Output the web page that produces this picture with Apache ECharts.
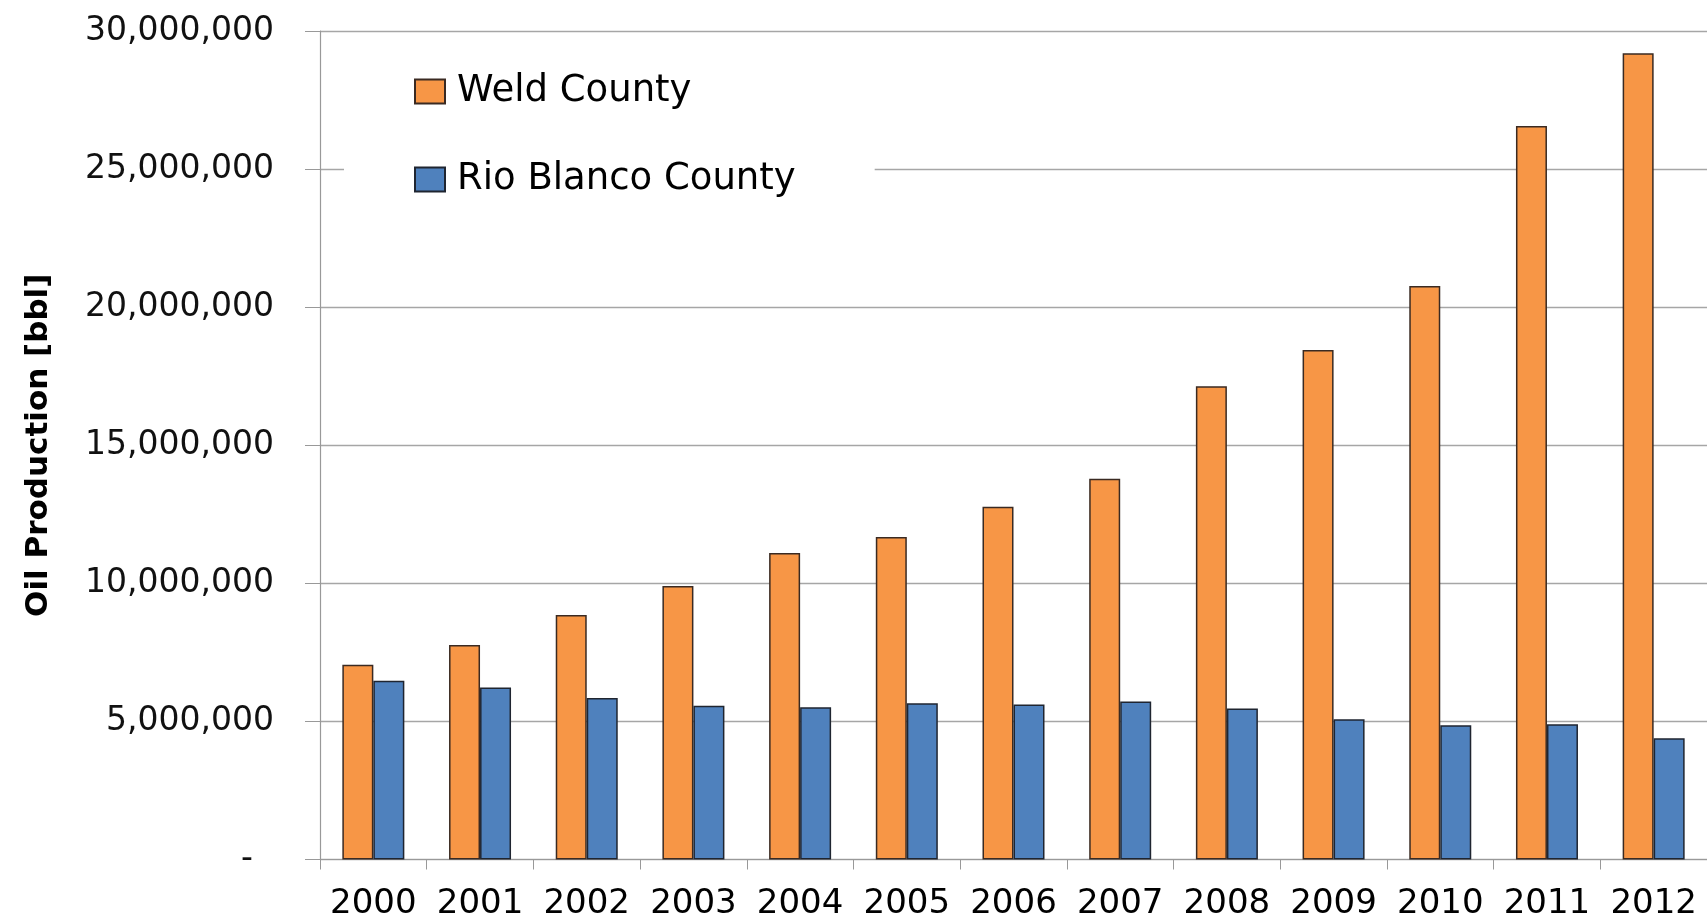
<!DOCTYPE html>
<html>
<head>
<meta charset="utf-8">
<script src="https://cdn.jsdelivr.net/npm/echarts@6/dist/echarts.min.js"></script>
<style>
  html, body { margin: 0; padding: 0; background: #fff; }
  #chart { width: 1707px; height: 922px; }
</style>
</head>
<body>
<div id="chart"></div>
<script>
// data
var years = ['2000', '2001', '2002', '2003', '2004', '2005', '2006', '2007', '2008', '2009', '2010', '2011', '2012'];
var weld = [7050000, 7770000, 8850000, 9900000, 11100000, 11680000, 12770000, 13790000, 17140000, 18450000, 20770000, 26560000, 29190000];
var rioBlanco = [6470000, 6230000, 5850000, 5570000, 5510000, 5660000, 5610000, 5720000, 5470000, 5080000, 4860000, 4900000, 4390000];
var seriesNames = ['Weld County', 'Rio Blanco County'];
var yTicks = { min: 0, max: 30000000, interval: 5000000 };

var myChart = echarts.init(document.getElementById('chart'));

// excel accounting style: zero shows as a dash
function fmt(v) {
  if (v === 0) return '-  ';
  return String(v).replace(/\B(?=(\d{3})+(?!\d))/g, ',');
}

var option = {
  backgroundColor: '#fff',
  animation: false,
  grid: {
    left: 320,
    top: 31,
    width: 1401,
    height: 828.5,
    containLabel: false
  },
  legend: {
    orient: 'vertical',
    left: 344,
    top: 48,
    padding: [25, 79, 25, 70],
    backgroundColor: '#fff',
    itemWidth: 30,
    itemHeight: 24,
    itemGap: 51,
    icon: 'rect',
    textStyle: {
      fontFamily: 'DejaVu Sans',
      fontSize: 37,
      lineHeight: 37,
      color: '#000',
      padding: [0, 0, 0, 7]
    },
    data: seriesNames
  },
  xAxis: {
    type: 'category',
    data: years,
    axisLine: { lineStyle: { color: '#999', width: 1.2 } },
    axisTick: { show: true, interval: 0, length: 10, lineStyle: { color: '#999' } },
    axisLabel: {
      interval: 0,
      hideOverlap: false,
      fontFamily: 'DejaVu Sans',
      fontSize: 34,
      color: '#000',
      margin: 28
    }
  },
  yAxis: {
    type: 'value',
    min: yTicks.min,
    max: yTicks.max,
    interval: yTicks.interval,
    name: 'Oil Production [bbl]',
    nameLocation: 'middle',
    nameGap: 266,
    nameTextStyle: {
      fontFamily: 'DejaVu Sans',
      fontWeight: 'bold',
      fontSize: 31,
      color: '#000'
    },
    axisLine: { show: true, lineStyle: { color: '#999', width: 1.2 } },
    axisTick: { show: true, length: 15, lineStyle: { color: '#999' } },
    splitLine: { lineStyle: { color: '#a6a6a6', width: 1.3 } },
    axisLabel: {
      fontFamily: 'DejaVu Sans',
      fontSize: 33,
      color: '#111',
      margin: 46,
      formatter: fmt
    }
  },
  series: [
    {
      name: seriesNames[0],
      type: 'bar',
      data: weld,
      barWidth: 31,
      barGap: '0%',
      itemStyle: { color: '#F79646', borderColor: '#3a2a22', borderWidth: 1.5 }
    },
    {
      name: seriesNames[1],
      type: 'bar',
      data: rioBlanco,
      barWidth: 31,
      barGap: '0%',
      itemStyle: { color: '#4F81BD', borderColor: '#1f2530', borderWidth: 1.5 }
    }
  ]
};

myChart.setOption(option);
</script>
</body>
</html>
